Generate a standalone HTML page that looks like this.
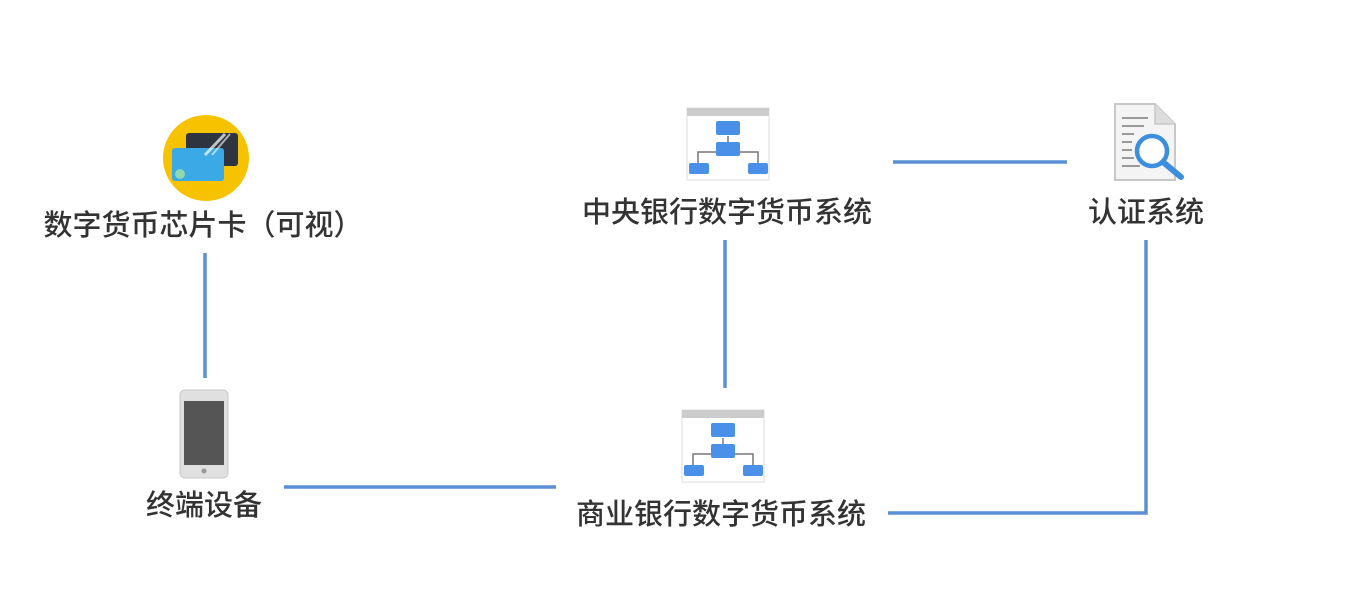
<!DOCTYPE html>
<html><head><meta charset="utf-8"><style>
body{margin:0;background:#fff;width:1345px;height:616px;overflow:hidden;position:relative;font-family:"Liberation Sans","Noto Sans CJK SC",sans-serif;}
.t{position:absolute;font-size:29px;font-weight:500;color:#333;white-space:nowrap;transform:translateX(-50%);line-height:1;}
</style></head><body>
<svg width="1345" height="616" style="position:absolute;left:0;top:0">
<g stroke="#5b8fd6" stroke-width="3.5" fill="none">
<line x1="205" y1="253" x2="205" y2="378"/>
<line x1="284" y1="487" x2="556" y2="487"/>
<line x1="725" y1="240" x2="725" y2="388"/>
<line x1="893" y1="162" x2="1067" y2="162"/>
<polyline points="1146,240 1146,513 888,513"/>
</g>
<circle cx="206" cy="158" r="43" fill="#f7c300"/>
<rect x="186" y="133" width="52" height="33" rx="3" fill="#2f3441"/>
<rect x="172" y="148" width="52" height="33" rx="3" fill="#3ba9e6"/>
<line x1="205" y1="155" x2="225" y2="134" stroke="#fff" stroke-width="3" opacity=".7"/>
<line x1="212" y1="155" x2="230" y2="134" stroke="#fff" stroke-width="2" opacity=".6"/>
<circle cx="180" cy="174" r="5" fill="#8fd9b0"/>
<rect x="180" y="390" width="48" height="88" rx="5" fill="#e0e0e0" stroke="#c8c8c8"/>
<rect x="184" y="401" width="40" height="64" fill="#555"/>
<circle cx="204" cy="471" r="2.5" fill="#999"/>
<g transform="translate(687,108)">
<rect x="0" y="0" width="82" height="72" fill="#fff" stroke="#ddd"/>
<rect x="0" y="0" width="82" height="8" fill="#ccc"/>
<g stroke="#777" stroke-width="1.5" fill="none"><line x1="41" y1="28" x2="41" y2="34"/><polyline points="11,57 11,44 71,44 71,57"/></g>
<rect x="29" y="13" width="24" height="14" rx="2" fill="#4a90e8"/>
<rect x="29" y="34" width="24" height="14" rx="2" fill="#4a90e8"/>
<rect x="2" y="55" width="20" height="11" rx="2" fill="#4a90e8"/>
<rect x="61" y="55" width="20" height="11" rx="2" fill="#4a90e8"/>
</g>
<g transform="translate(682,410)">
<rect x="0" y="0" width="82" height="72" fill="#fff" stroke="#ddd"/>
<rect x="0" y="0" width="82" height="8" fill="#ccc"/>
<g stroke="#777" stroke-width="1.5" fill="none"><line x1="41" y1="28" x2="41" y2="34"/><polyline points="11,57 11,44 71,44 71,57"/></g>
<rect x="29" y="13" width="24" height="14" rx="2" fill="#4a90e8"/>
<rect x="29" y="34" width="24" height="14" rx="2" fill="#4a90e8"/>
<rect x="2" y="55" width="20" height="11" rx="2" fill="#4a90e8"/>
<rect x="61" y="55" width="20" height="11" rx="2" fill="#4a90e8"/>
</g>
<path d="M1115 104 H1155 L1175 124 V180 H1115 Z" fill="#f4f4f4" stroke="#c8c8c8" stroke-width="2"/>
<path d="M1155 104 V124 H1175" fill="#ddd" stroke="#c8c8c8" stroke-width="1.5"/>
<g stroke="#999" stroke-width="2"><line x1="1122" y1="118" x2="1148" y2="118"/><line x1="1122" y1="126" x2="1144" y2="126"/><line x1="1122" y1="134" x2="1134" y2="134"/><line x1="1122" y1="142" x2="1132" y2="142"/><line x1="1122" y1="150" x2="1132" y2="150"/><line x1="1122" y1="158" x2="1134" y2="158"/><line x1="1122" y1="166" x2="1140" y2="166"/></g>
<circle cx="1152" cy="151" r="15" fill="#fff" stroke="#3c8fde" stroke-width="4.5"/>
<line x1="1163" y1="162" x2="1181" y2="177" stroke="#3c8fde" stroke-width="6" stroke-linecap="round"/>
</svg>
<div class="t" style="left:203px;top:212px">数字货币芯片卡（可视）</div>
<div class="t" style="left:204px;top:492px">终端设备</div>
<div class="t" style="left:721px;top:501px">商业银行数字货币系统</div>
<div class="t" style="left:727px;top:199px">中央银行数字货币系统</div>
<div class="t" style="left:1146px;top:199px">认证系统</div>
</body></html>
